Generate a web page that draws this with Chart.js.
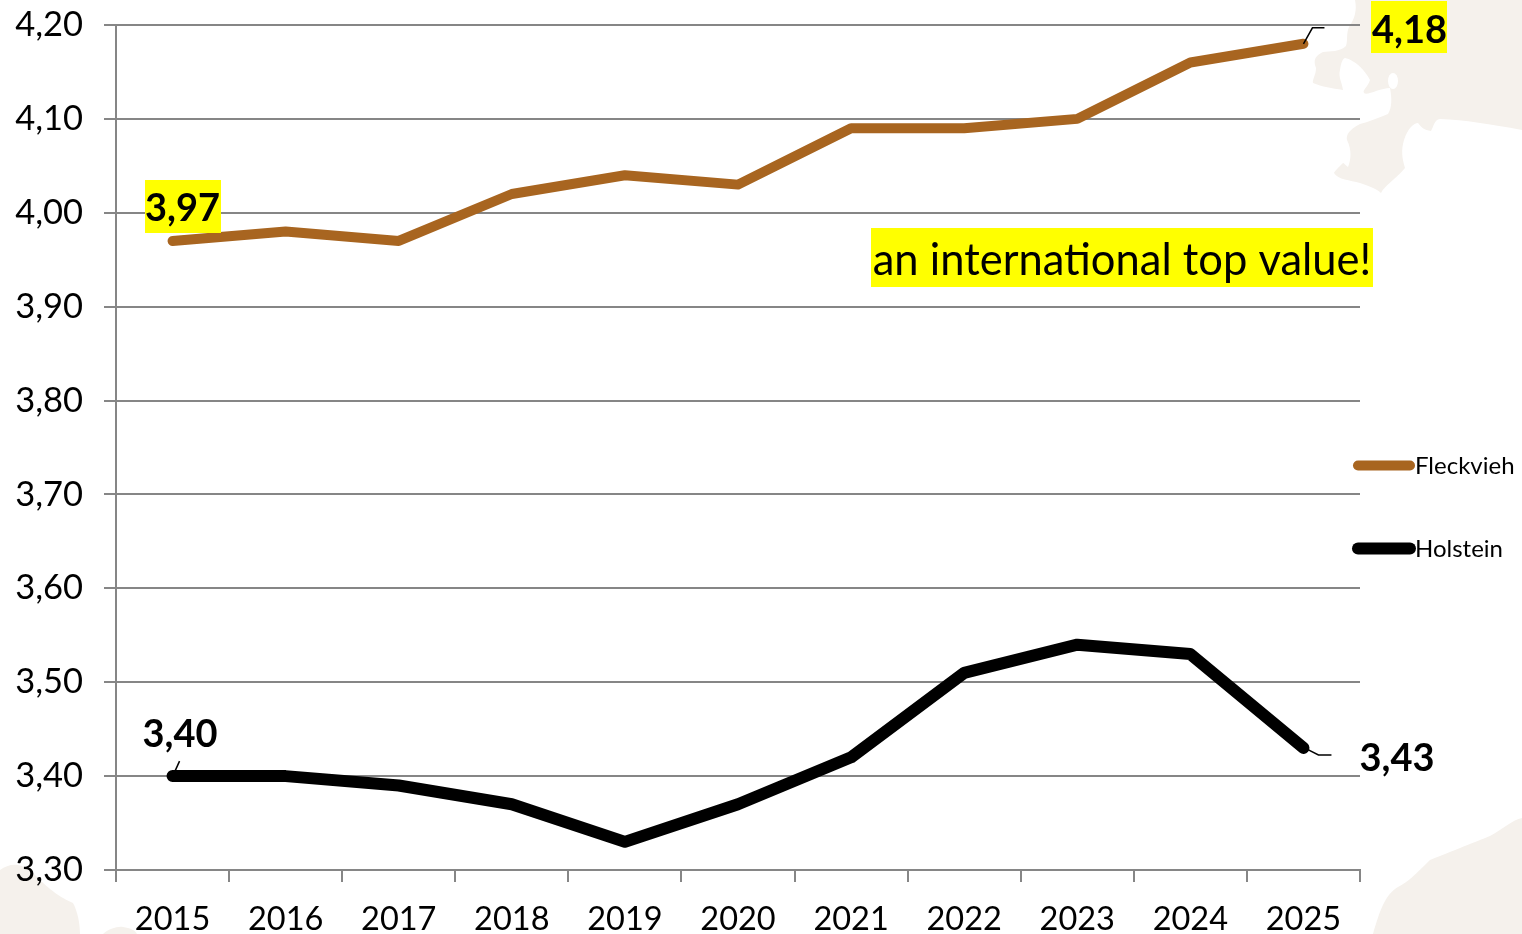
<!DOCTYPE html>
<html><head><meta charset="utf-8">
<style>
html,body{margin:0;padding:0;background:#fff;width:1522px;height:934px;overflow:hidden}
#bg{position:absolute;left:0;top:0}
#c{position:absolute;left:0;top:0;background:transparent}
#wrap{position:absolute;left:0;top:0;width:1522px;height:934px}
</style>
<script src="https://cdn.jsdelivr.net/npm/chart.js@4"></script>
</head><body>
<svg id="bg" width="1522" height="934" viewBox="0 0 1522 934" fill="#f5f1ec">
<path d="M1355 0C1357 10 1355 18 1349 27C1346 34 1348 40 1346 46C1340 52 1330 51 1323 52C1315 56 1313 60 1316 68C1316 75 1312 80 1313 83C1322 87 1332 88 1343 90C1342 82 1338 77 1340 70C1341 64 1342 59 1345 58C1355 60 1365 70 1370 80C1368 87 1362 90 1364 93C1367 96 1380 88 1390 88C1392 98 1392 108 1388 114C1378 118 1368 122 1360 124C1348 130 1346 136 1347 140C1352 150 1351 160 1348 167C1345 165 1344 163 1343 163C1338 168 1334 172 1334 173C1338 180 1350 180 1360 183C1370 186 1378 190 1381 193C1385 185 1395 180 1405 168C1402 158 1401 150 1404 140C1408 128 1414 123 1418 123C1422 128 1424 130 1431 131C1434 126 1434 120 1440 119C1465 120 1490 124 1522 130L1522 0Z"/>
<path d="M1373 934C1380 910 1385 895 1398 887C1408 882 1415 875 1430 860C1460 848 1480 840 1490 836C1505 828 1512 820 1522 818L1522 934Z"/>
<path d="M0 870C10 863 20 862 33 873C45 885 55 895 73 903C78 912 80 925 80 934L0 934Z"/>
<path d="M103 934C108 929 118 926 123 927C130 928 135 930 137 934Z"/>
<ellipse cx="1393" cy="81" rx="5" ry="8" fill="#fff"/>
</svg>
<div id="wrap"><canvas id="c" width="1522" height="934"></canvas></div>
<script>
const categories = ['2015','2016','2017','2018','2019','2020','2021','2022','2023','2024','2025'];
const fleckvieh = [3.97,3.98,3.97,4.02,4.04,4.03,4.09,4.09,4.10,4.16,4.18];
const holstein  = [3.40,3.40,3.39,3.37,3.33,3.37,3.42,3.51,3.54,3.53,3.43];
const seriesNames = ['Fleckvieh','Holstein'];
const seriesColors = ['#a86520','#000000'];
const note = 'an international top value!';
const FONT = 'Lato, "Open Sans", sans-serif';
const fmt = v => Number(v).toFixed(2).replace('.',',');

const callouts = [
  {ds:0,i:0, cx:182.5,cy:209, box:[145,180,221,233], lead:null},
  {ds:0,i:10,cx:1409.5,cy:31, box:[1371,1,1447,53], lead:[[0,0],[9,-16],[21,-16]]},
  {ds:1,i:0, cx:180,cy:735, box:null, lead:[[2,-4],[7,-15]]},
  {ds:1,i:10,cx:1397,cy:759, box:null, lead:[[3,1],[15,7],[28,7]]}
];

const decor = {
  id:'decor',
  afterDatasetsDraw(chart){
    const ctx = chart.ctx;
    ctx.save();
    callouts.forEach(c=>{
      const pt = chart.getDatasetMeta(c.ds).data[c.i];
      const val = chart.data.datasets[c.ds].data[c.i];
      if(c.lead){
        ctx.strokeStyle='#000'; ctx.lineWidth=1.5; ctx.lineCap='butt';
        ctx.beginPath();
        c.lead.forEach((p,k)=>{ const X=pt.x+p[0],Y=pt.y+p[1]; k?ctx.lineTo(X,Y):ctx.moveTo(X,Y); });
        ctx.stroke();
      }
      if(c.box){
        ctx.fillStyle='#ffff00';
        ctx.fillRect(c.box[0],c.box[1],c.box[2]-c.box[0],c.box[3]-c.box[1]);
      }
      ctx.fillStyle='#000';
      ctx.font='bold 38px '+FONT;
      ctx.textAlign='center'; ctx.textBaseline='middle';
      ctx.fillText(fmt(val),c.cx,c.cy);
    });
    ctx.fillStyle='#ffff00';
    ctx.fillRect(871,228,502,59);
    ctx.fillStyle='#000';
    ctx.font='43.5px '+FONT;
    ctx.textAlign='center'; ctx.textBaseline='middle';
    ctx.fillText(note,1122,261);
    const ly=[465.5,548.5];
    chart.data.datasets.forEach((d,k)=>{
      ctx.strokeStyle=d.borderColor; ctx.lineWidth=d.borderWidth; ctx.lineCap='round';
      ctx.beginPath(); ctx.moveTo(1358,ly[k]); ctx.lineTo(1410,ly[k]); ctx.stroke();
      ctx.fillStyle='#000'; ctx.font='24px '+FONT;
      ctx.textAlign='left'; ctx.textBaseline='middle';
      ctx.fillText(d.label,1415,ly[k]+1);
    });
    ctx.restore();
  }
};

new Chart(document.getElementById('c'),{
  type:'line',
  data:{labels:categories,datasets:[
    {label:seriesNames[0],data:fleckvieh,borderColor:seriesColors[0],backgroundColor:seriesColors[0],borderWidth:10,pointRadius:0,tension:0,borderCapStyle:'round',borderJoinStyle:'round',fill:false},
    {label:seriesNames[1],data:holstein,borderColor:seriesColors[1],backgroundColor:seriesColors[1],borderWidth:12,pointRadius:0,tension:0,borderCapStyle:'round',borderJoinStyle:'round',fill:false}
  ]},
  options:{
    responsive:false,animation:false,devicePixelRatio:1,
    layout:{padding:{top:25,right:162,left:0,bottom:0}},
    plugins:{legend:{display:false},tooltip:{enabled:false},title:{display:false}},
    scales:{
      x:{type:'category',offset:true,
        afterFit(s){s.height=64;s.paddingLeft=0;s.paddingRight=0;},
        grid:{offset:true,drawOnChartArea:false,drawTicks:true,tickLength:12,color:'#868686',lineWidth:2},
        border:{color:'#868686',width:2},
        ticks:{color:'#000',font:{family:FONT,size:32.5},padding:18,maxRotation:0,autoSkip:false}},
      y:{type:'linear',min:3.3,max:4.2,
        afterFit(s){s.width=116;s.paddingTop=0;s.paddingBottom=0;},
        grid:{color:'#868686',lineWidth:2,tickLength:12},
        border:{color:'#868686',width:2},
        ticks:{stepSize:0.1,color:'#000',font:{family:FONT,size:34.5},padding:21,callback:v=>fmt(v)}}
    }
  },
  plugins:[decor]
});
</script>
</body></html>
